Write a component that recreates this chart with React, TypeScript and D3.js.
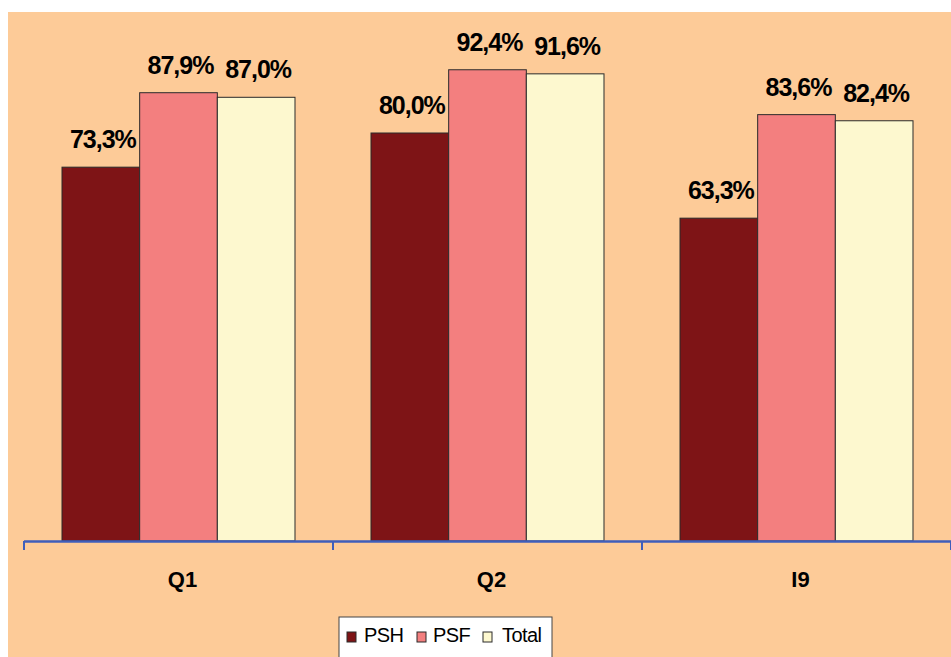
import React from "react";
import * as d3 from "d3";

const categories = ["Q1", "Q2", "I9"];
const seriesNames = ["PSH", "PSF", "Total"];
const psh = [73.3, 80.0, 63.3];
const psf = [87.9, 92.4, 83.6];
const total = [87.0, 91.6, 82.4];
const seriesValues = [psh, psf, total];
const colors = ["#7E1416", "#F37F7F", "#FDF8CF"];

const W = 951;
const H = 657;

export default function App() {
  const x0 = d3.scaleBand<string>().domain(categories).range([24, 951]).paddingInner(0).paddingOuter(0);
  const bw = x0.bandwidth();
  const x1 = d3.scaleBand<string>().domain(seriesNames).range([bw * 0.123, bw * 0.877]).padding(0);
  const y = d3.scaleLinear().domain([0, 100]).range([541, 31]);
  const fmt = (v: number) => v.toFixed(1).replace(".", ",") + "%";
  const tickXs = [...categories.map((c) => x0(c)!), 951];

  const legendItems = [
    { name: "PSH", mx: 347, tx: 364 },
    { name: "PSF", mx: 417, tx: 433 },
    { name: "Total", mx: 483, tx: 502 },
  ];

  return (
    <svg
      width={W}
      height={H}
      style={{ position: "absolute", left: 0, top: 0, fontFamily: "'Liberation Sans', Arial, sans-serif" }}
    >
      <rect x={0} y={0} width={W} height={H} fill="#ffffff" />
      <rect x={8} y={12} width={W - 8} height={H - 12} fill="#FDCB98" />
      {categories.map((c, ci) =>
        seriesNames.map((s, si) => {
          const v = seriesValues[si][ci];
          const bx = x0(c)! + x1(s)!;
          return (
            <g key={c + s}>
              <rect
                x={bx}
                y={y(v)}
                width={x1.bandwidth()}
                height={y(0) - y(v)}
                fill={colors[si]}
                stroke="#2b2b2b"
                strokeWidth={1}
              />
              <text
                x={bx + x1.bandwidth() / 2 + 2}
                y={y(v) - 19}
                textAnchor="middle"
                fontSize={25}
                fontWeight="bold"
                letterSpacing={-1}
                fill="#000"
              >
                {fmt(v)}
              </text>
            </g>
          );
        })
      )}
      <line x1={24} x2={951} y1={y(0) + 0.5} y2={y(0) + 0.5} stroke="#3F5EBB" strokeWidth={2.5} />
      {tickXs.map((tx, i) => (
        <line key={i} x1={tx} x2={tx} y1={y(0)} y2={y(0) + 9} stroke="#3F5EBB" strokeWidth={2} />
      ))}
      {categories.map((c) => (
        <text
          key={c}
          x={x0(c)! + bw / 2 + 4}
          y={587}
          textAnchor="middle"
          fontSize={22}
          fontWeight="bold"
          fill="#000"
        >
          {c}
        </text>
      ))}
      <rect x={339} y={617} width={213} height={50} fill="#ffffff" stroke="#444" strokeWidth={1} />
      {legendItems.map((it, i) => (
        <g key={it.name}>
          <rect x={it.mx} y={632} width={9} height={10} fill={colors[i]} stroke="#2b2b2b" strokeWidth={1} />
          <text x={it.tx} y={642} fontSize={20} letterSpacing={-0.6} fill="#000">
            {it.name}
          </text>
        </g>
      ))}
    </svg>
  );
}
